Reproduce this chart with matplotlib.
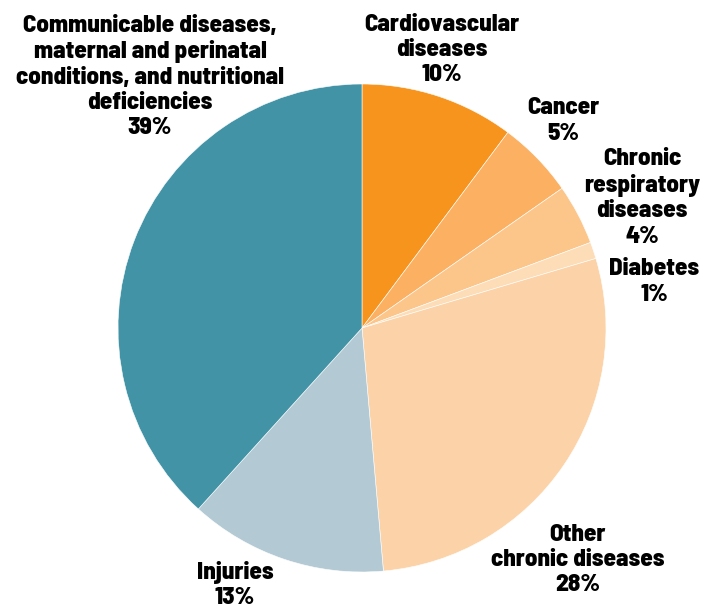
import matplotlib
matplotlib.use("Agg")
import matplotlib.pyplot as plt

categories = [
    "Cardiovascular\ndiseases",
    "Cancer",
    "Chronic\nrespiratory\ndiseases",
    "Diabetes",
    "Other\nchronic diseases",
    "Injuries",
    "Communicable diseases,\nmaternal and perinatal\nconditions, and nutritional\ndeficiencies",
]
# wedge sizes; printed labels are rounded
shares = [10.2, 5.1, 4.0, 1.1, 28.2, 13.1, 38.3]
pct_labels = ["10%", "5%", "4%", "1%", "28%", "13%", "39%"]
colors = ["#F7941D", "#FBB062", "#FCC68B", "#FDDDB8", "#FCD3A8", "#B3C9D3", "#4393A6"]

# label anchor points (pixels, origin bottom-left)
label_pos = [(442, 562), (563, 491), (642, 414), (654, 330), (578, 52), (235, 27), (150, 535)]

fig = plt.figure(figsize=(7.05, 6.12), dpi=100)
ax = fig.add_axes([0, 0, 1, 1])
ax.pie(shares, colors=colors, startangle=90, counterclock=False,
       center=(362, 284), radius=244,
       wedgeprops=dict(edgecolor="white", linewidth=0.4))
ax.set_xlim(0, 705)
ax.set_ylim(0, 612)
ax.set_aspect("equal")
ax.axis("off")

fam = ["Barlow Semi Condensed", "DejaVu Sans"]
for name, pct, (x, y) in zip(categories, pct_labels, label_pos):
    ax.text(x, y, f"{name}\n{pct}", ha="center", va="center",
            fontsize=18, fontweight=800, family=fam, linespacing=1.2,
            color="black")

fig.savefig("out.png", dpi=100)
